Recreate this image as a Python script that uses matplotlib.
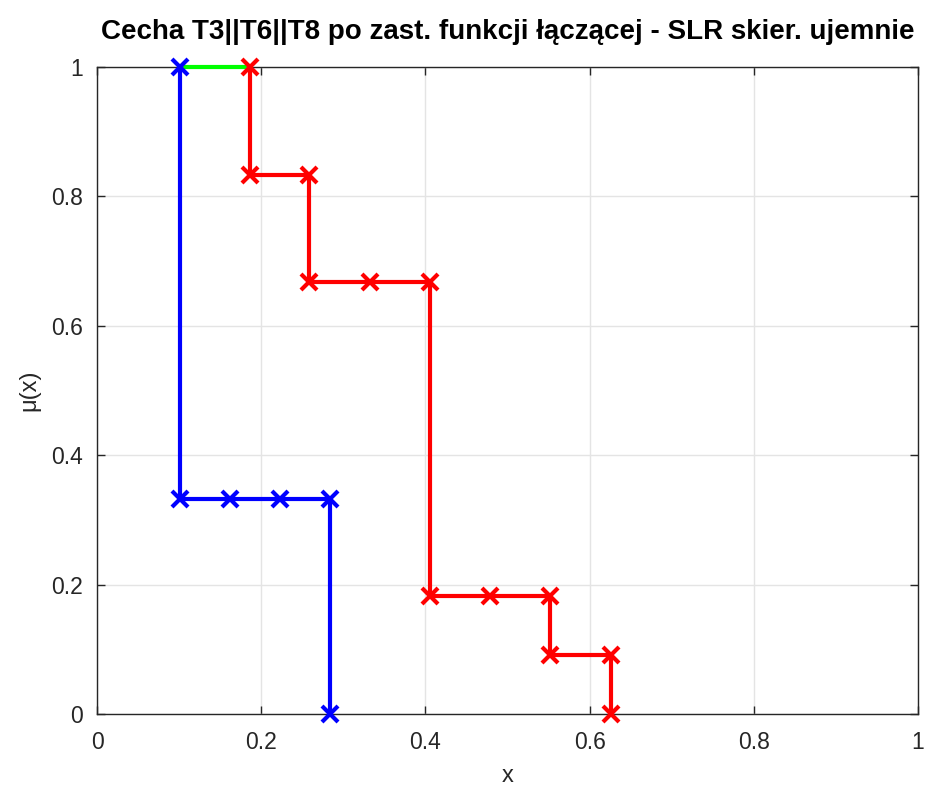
import matplotlib
matplotlib.use("Agg")
import matplotlib.pyplot as plt

# lower (blue) and upper (red) membership functions, joined by the green segment
blue_x = [0.101, 0.101, 0.162, 0.223, 0.284, 0.284]
blue_y = [1.0, 0.333, 0.333, 0.333, 0.333, 0.0]

red_x = [0.186, 0.186, 0.258, 0.258, 0.332, 0.405, 0.405, 0.479, 0.552, 0.552, 0.626, 0.626]
red_y = [1.0, 0.833, 0.833, 0.667, 0.667, 0.667, 0.182, 0.182, 0.182, 0.091, 0.091, 0.0]

green_x = [0.101, 0.186]
green_y = [1.0, 1.0]

ticks = [0, 0.2, 0.4, 0.6, 0.8, 1]
tick_labels = ["0", "0.2", "0.4", "0.6", "0.8", "1"]

plt.rcParams['font.family'] = ['Liberation Sans', 'DejaVu Sans']

fig = plt.figure(figsize=(9.25, 7.88), dpi=100)
ax = fig.add_axes([0.1049, 0.0939, 0.8875, 0.8211])

ax.plot(green_x, green_y, color='#00ff00', lw=3, zorder=3, clip_on=False)
ax.plot(blue_x, blue_y, color='#0000ff', lw=3, marker='x', ms=12, mew=3,
        zorder=4, clip_on=False)
ax.plot(red_x, red_y, color='#ff0000', lw=3, marker='x', ms=12, mew=3,
        zorder=4, clip_on=False)

ax.set_xlim(0, 1)
ax.set_ylim(0, 1)
ax.set_xticks(ticks)
ax.set_xticklabels(tick_labels)
ax.set_yticks(ticks)
ax.set_yticklabels(tick_labels)
ax.grid(True, color='#e4e4e4', lw=1)
ax.set_axisbelow(True)
ax.tick_params(direction='in', length=6, width=1, colors='#262626', labelsize=16.5,
               top=True, right=True)
ax.tick_params(axis='x', pad=12)
ax.tick_params(axis='y', pad=10)
for s in ax.spines.values():
    s.set_color('#262626')
    s.set_linewidth(1)
for lab in ax.get_xticklabels() + ax.get_yticklabels():
    lab.set_color('#262626')

ax.set_xlabel("x", fontsize=17, color='#262626', labelpad=8)
ax.set_ylabel("μ(x)", fontsize=17, color='#262626', labelpad=8)
ax.set_title("Cecha T3||T6||T8 po zast. funkcji łączącej - SLR skier. ujemnie",
             fontsize=20, fontweight='bold', pad=20)

fig.savefig("out.png", dpi=100)
